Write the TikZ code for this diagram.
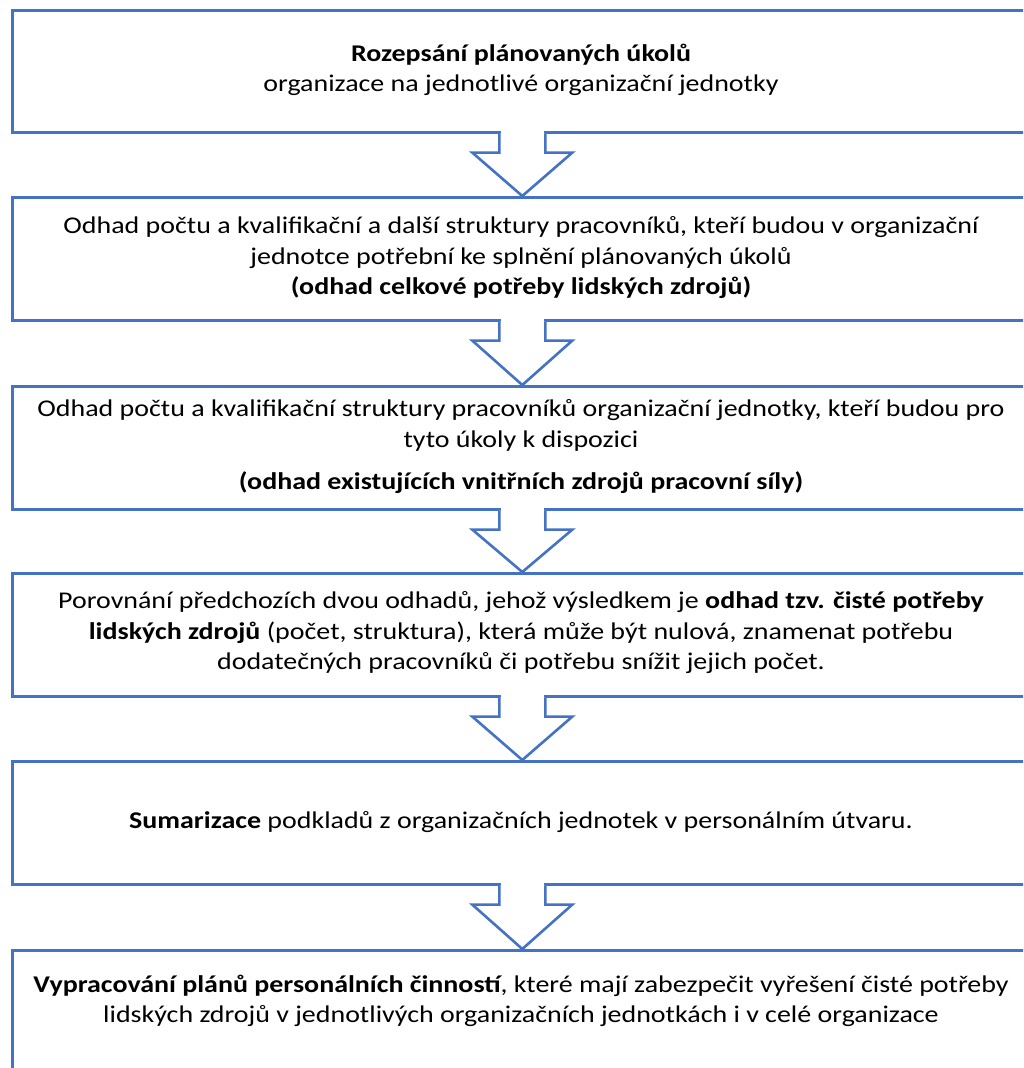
\documentclass[tikz,border=0pt]{standalone}
\usepackage{fontspec}
\setmainfont{Carlito}[FakeStretch=1.165]
\usetikzlibrary{calc}
\definecolor{boxblue}{HTML}{4472C4}
\newcommand\blockarrow[2]{%
  \fill[white] ($(#1.south)+(-21.5,-3)$) rectangle ($(#1.south)+(21.5,19)$);
  \draw[arrowline] ($(#1.south)+(-23,0)$) -- ($(#1.south)+(-23,19)$) -- ($(#1.south)+(-50,19)$) -- (#2.north) -- ($(#1.south)+(50,19)$) -- ($(#1.south)+(23,19)$) -- ($(#1.south)+(23,0)$);
}
\begin{document}
\begin{tikzpicture}[x=1pt,y=-1pt,
  box/.style={draw=boxblue, line width=2.6pt, minimum width=1020pt, inner sep=0pt, anchor=north west, rectangle},
  arrowline/.style={draw=boxblue, line width=2.6pt, line join=miter, fill=white},
  txt/.style={align=center, inner sep=0pt, font=\fontsize{24}{30.5}\selectfont}]
\clip (0,0) rectangle (1023,1068);
\fill[white] (0,0) rectangle (1023,1068);
\node[box, minimum height=122pt] (b1) at (11,9) {};
\node[box, minimum height=123pt] (b2) at (11,196) {};
\node[box, minimum height=123pt] (b3) at (11,385) {};
\node[box, minimum height=123pt] (b4) at (11,572) {};
\node[box, minimum height=123pt] (b5) at (11,760) {};
\node[box, minimum height=150pt] (b6) at (11,949) {};
\blockarrow{b1}{b2}
\blockarrow{b2}{b3}
\blockarrow{b3}{b4}
\blockarrow{b4}{b5}
\blockarrow{b5}{b6}
\node[txt] (t1) at (521,70) {\textbf{Rozepsání plánovaných úkolů}\\organizace na jednotlivé organizační jednotky};
\node[txt] (t2) at (521,258) {Odhad počtu a kvalifikační a další struktury pracovníků, kteří budou v organizační\\jednotce potřební ke splnění plánovaných úkolů\\\textbf{(odhad celkové potřeby lidských zdrojů)}};
\node[txt] (t3) at (521,447) {Odhad počtu a kvalifikační struktury pracovníků organizační jednotky, kteří budou pro\\tyto úkoly k dispozici\\[12pt]\textbf{(odhad existujících vnitřních zdrojů pracovní síly)}};
\node[txt] (t4) at (521,633) {Porovnání předchozích dvou odhadů, jehož výsledkem je \textbf{odhad tzv. čisté potřeby}\\\textbf{lidských zdrojů} (počet, struktura), která může být nulová, znamenat potřebu\\dodatečných pracovníků či potřebu snížit jejich počet.};
\node[txt] (t5) at (521,822) {\textbf{Sumarizace} podkladů z organizačních jednotek v personálním útvaru.};
\node[txt] (t6) at (521,1001) {\textbf{Vypracování plánů personálních činností}, které mají zabezpečit vyřešení čisté potřeby\\lidských zdrojů v jednotlivých organizačních jednotkách i v celé organizace};
\end{tikzpicture}
\end{document}
